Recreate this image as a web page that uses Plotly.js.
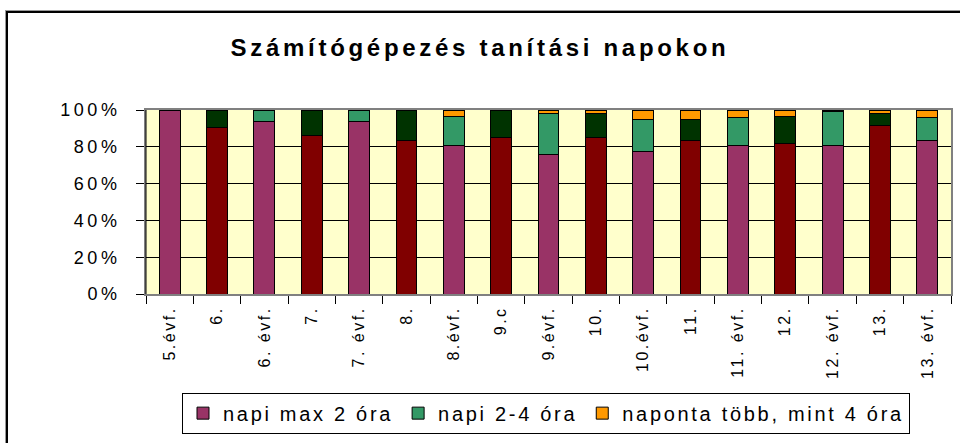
<!DOCTYPE html>
<html>
<head>
<meta charset="utf-8">
<script src="https://cdn.plot.ly/plotly-3.0.1.min.js"></script>
<style>
  html, body { margin: 0; padding: 0; background: #fff; overflow: hidden; }
  #wrap { position: relative; width: 960px; height: 443px; }
  #chart { position: absolute; left: 0; top: 0; width: 960px; height: 443px; }
  #frame { position: absolute; left: 6px; top: 11px; width: 1000px; height: 1000px;
           border: 2px solid #000; box-shadow: -1px -1px 0 #999; pointer-events: none; }
  .gtitle { letter-spacing: 3.7px; }
  .ytick text { letter-spacing: 3.5px; }
  .xtick text { letter-spacing: 2.5px; }
  .legendtext { letter-spacing: 2.7px; }
</style>
</head>
<body>
<div id="wrap">
  <div id="chart"></div>
  <div id="frame"></div>
</div>
<script>
// ---- data ----
const categories = ["5.évf.", "6.", "6. évf.", "7.", "7. évf.", "8.", "8.évf.", "9.c", "9.évf.",
                    "10.", "10.évf.", "11.", "11. évf.", "12.", "12. évf.", "13.", "13. évf."];
const napiMax2   = [100, 90.6, 94, 85.9, 94, 83.3, 80.8, 85.1, 75.9, 84.9, 77.7, 83.3, 80.8, 81.6, 80.8, 91.4, 83.3];
const napi2to4   = [0, 9.4, 6, 14.1, 6, 16.7, 15.8, 14.9, 22.4, 13.4, 17.1, 11.5, 14.9, 15.0, 18.4, 6.9, 12.4];
const tobbMint4  = [0, 0, 0, 0, 0, 0, 3.4, 0, 1.7, 1.7, 5.2, 5.2, 4.3, 3.4, 0.8, 1.7, 4.3];
const seriesNames = ["napi max 2 óra", "napi 2-4 óra", "naponta több, mint 4 óra"];

// class rows (6., 7., ... 9.c ...) are drawn in darker shades
const isClass = categories.map(c => !c.includes("évf"));
const colMax2 = isClass.map(d => d ? "#800000" : "#993366");
const col24   = isClass.map(d => d ? "#003300" : "#339966");
const col4    = isClass.map(d => "#FF9900");

const FONT = "Liberation Sans, Arial, sans-serif";
const line = { color: "#000", width: 1 };

const traces = [
  { type: "bar", name: seriesNames[0], x: categories, y: napiMax2, marker: { color: colMax2, line: line } },
  { type: "bar", name: seriesNames[1], x: categories, y: napi2to4, marker: { color: col24, line: line } },
  { type: "bar", name: seriesNames[2], x: categories, y: tobbMint4, marker: { color: col4, line: line } }
];

const layout = {
  width: 960, height: 443,
  margin: { l: 146, r: 9, t: 110, b: 139, pad: 0 },
  paper_bgcolor: "#ffffff",
  plot_bgcolor: "#FFFFCC",
  barmode: "stack",
  barnorm: "percent",
  bargap: 0.56,
  font: { family: FONT, color: "#000", size: 16 },
  title: {
    text: "Számítógépezés tanítási napokon",
    font: { family: FONT, size: 24, weight: "bold", color: "#000" },
    x: 0.5, xref: "container", xanchor: "center",
    y: 1 - 48 / 443, yref: "container", yanchor: "middle"
  },
  xaxis: {
    type: "category",
    tickangle: -90,
    tickson: "boundaries",
    ticks: "outside", ticklen: 8, tickcolor: "#000", tickwidth: 1,
    showgrid: false,
    showline: true, linecolor: "#808080", linewidth: 2, mirror: true,
    tickfont: { family: FONT, size: 16, color: "#000" },
    ticklabelstandoff: 4,
    fixedrange: true
  },
  yaxis: {
    range: [0, 100],
    dtick: 20,
    ticksuffix: "%",
    ticks: "outside", ticklen: 8, tickcolor: "#000", tickwidth: 1,
    showgrid: true, gridcolor: "#000", gridwidth: 1,
    showline: true, linecolor: "#808080", linewidth: 2, mirror: true,
    zeroline: false,
    tickfont: { family: FONT, size: 18, color: "#000" },
    ticklabelstandoff: 12,
    fixedrange: true
  },
  shapes: [
    { type: "line", xref: "paper", yref: "paper", x0: 0, x1: 0, y0: 0, y1: 1,
      line: { color: "#000", width: 1 }, layer: "above" }
  ],
  showlegend: true,
  legend: {
    orientation: "h",
    x: (546 - 146) / 805, xanchor: "center",
    y: -(408 - 304) / 194, yanchor: "top",
    bordercolor: "#000", borderwidth: 1,
    bgcolor: "#ffffff",
    font: { family: FONT, size: 20, color: "#000" },
    itemwidth: 30,
    traceorder: "normal"
  }
};

Plotly.newPlot("chart", traces, layout, { displayModeBar: false, staticPlot: true });
</script>
</body>
</html>
